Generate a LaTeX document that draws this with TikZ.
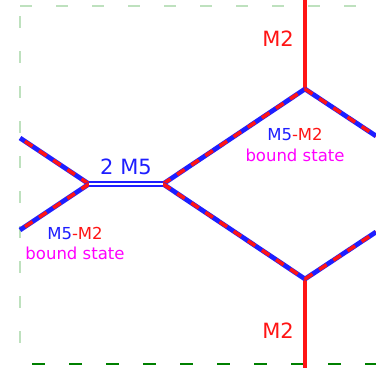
\documentclass[tikz,border=0pt]{standalone}
\usepackage{fontspec}
\setmainfont{DejaVu Sans}
\definecolor{lgreen}{RGB}{190,225,190}
\definecolor{dgreen}{RGB}{0,128,0}
\definecolor{mblue}{RGB}{30,30,255}
\definecolor{mred}{RGB}{255,20,20}
\definecolor{mmag}{RGB}{255,0,255}
\begin{document}
\begin{tikzpicture}[x=1pt,y=-1pt,
  bm/.style={draw=mblue,line width=4.8pt},
  rd/.style={draw=mred,line width=3.6pt,dash pattern=on 9pt off 8pt},
  mtwo/.style={draw=mred,line width=4.3pt},
  lbl/.style={inner sep=0pt,font=\fontsize{16.5}{19}\selectfont},
  big/.style={inner sep=0pt,font=\fontsize{21}{24}\selectfont}]
\useasboundingbox (0,0) rectangle (376,368);
\clip (0,0) rectangle (376,368);
% borders
\draw[lgreen,line width=1.2pt,dash pattern=on 12pt off 24pt] (20,6) -- (362,6);
\draw[lgreen,line width=1.2pt,dash pattern=on 12pt off 23pt,dash phase=-10pt] (20,6) -- (20,360);
\draw[dgreen,line width=2pt,dash pattern=on 13pt off 24pt] (32,364) -- (376,364);
% coordinates
\coordinate (A) at (89,184);
\coordinate (B) at (163,184);
\coordinate (C) at (305,89);
\coordinate (D) at (305,279);
\coordinate (CT) at (305,0);
\coordinate (DB) at (305,368);
\coordinate (LU) at (20,138);
\coordinate (LD) at (20,230);
\coordinate (RU) at (376,136);
\coordinate (RD) at (376,232);
% M2 lines
\draw[mtwo] (CT) -- (C);
\draw[mtwo] (D) -- (DB);
% bound state lines
\foreach \p/\q in {B/C,B/D,C/RU,D/RD,A/LU,A/LD}{
  \draw[bm] (\p) -- (\q);
  \draw[rd] (\p) -- (\q);
}
% 2 M5 double line
\draw[mblue,line width=2.3pt,double=white,double distance=2pt] (A) -- (B);
% labels
\node[big,text=mred] (m2t) at (278,39) {M2};
\node[big,text=mred] (m2b) at (278,331) {M2};
\node[big,text=mblue] (tm5) at (126,167) {2 M5};
\node[lbl] (bs1) at (295,134) {\textcolor{mblue}{M5}\textcolor{mred}{-M2}};
\node[lbl,text=mmag] (bs1b) at (295,155) {bound state};
\node[lbl] (bs2) at (75,233) {\textcolor{mblue}{M5}\textcolor{mred}{-M2}};
\node[lbl,text=mmag] (bs2b) at (75,253) {bound state};
\end{tikzpicture}
\end{document}
